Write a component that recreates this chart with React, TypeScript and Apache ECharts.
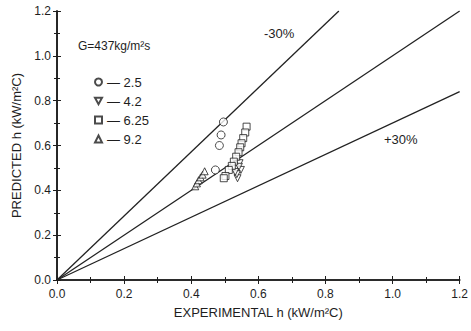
import React, { useEffect, useRef } from "react";
import * as echarts from "echarts";

// Data
const circle25: [number, number][] = [
  [0.496, 0.705], [0.489, 0.647], [0.484, 0.600], [0.472, 0.491],
];
const down42: [number, number][] = [
  [0.538, 0.454], [0.548, 0.491], [0.544, 0.521], [0.536, 0.472], [0.542, 0.505], [0.531, 0.482],
];
const square625: [number, number][] = [
  [0.565, 0.684], [0.561, 0.658], [0.555, 0.633], [0.550, 0.610], [0.546, 0.592],
  [0.541, 0.570], [0.534, 0.550], [0.527, 0.528], [0.521, 0.509], [0.512, 0.491],
  [0.502, 0.464], [0.497, 0.454],
];
const up92: [number, number][] = [
  [0.412, 0.418], [0.417, 0.431], [0.422, 0.445], [0.428, 0.458], [0.434, 0.470], [0.440, 0.485],
];
const perfectLine: [number, number][] = [[0, 0], [1.2, 1.2]];
const minus30Line: [number, number][] = [[0, 0], [0.84, 1.2]];
const plus30Line: [number, number][] = [[0, 0], [1.2, 0.84]];
const seriesNames = ["— 2.5", "— 4.2", "— 6.25", "— 9.2"];

const FONT = "Liberation Sans, Arial, sans-serif";
const INK = "#1e1e1e";

export default function App() {
  const ref = useRef<HTMLDivElement>(null);
  useEffect(() => {
    if (!ref.current) return;
    const chart = echarts.init(ref.current, undefined, { renderer: "svg" });
    const axisCommon = {
      min: 0,
      max: 1.2,
      interval: 0.2,
      axisLine: { show: true, lineStyle: { color: INK, width: 1.6 } },
      axisTick: { show: true, inside: true, length: 4, lineStyle: { color: INK } },
      minorTick: { show: true, splitNumber: 2, length: 3, lineStyle: { color: INK } },
      splitLine: { show: false },
    };
    const hollow = { color: "#fff", borderColor: INK, borderWidth: 1 };
    const lineStyle = { color: "#222", width: 1.3 };
    chart.setOption({
      animation: false,
      backgroundColor: "#fff",
      textStyle: { fontFamily: FONT },
      grid: { left: 57, right: 10, top: 11, bottom: 51, containLabel: false },
      xAxis: [
        {
          ...axisCommon,
          type: "value",
          position: "bottom",
          name: "EXPERIMENTAL h (kW/m²C)",
          nameLocation: "middle",
          nameGap: 26,
          nameTextStyle: { fontFamily: FONT, fontSize: 13, color: INK },
          axisLabel: { fontFamily: FONT, fontSize: 12, color: INK, margin: 8, formatter: (v: number) => v.toFixed(1) },
        },
        {
          ...axisCommon,
          type: "value",
          position: "top",
          axisLabel: { show: false },
        },
      ],
      yAxis: [
        {
          ...axisCommon,
          type: "value",
          position: "left",
          name: "PREDICTED h (kW/m²C)",
          nameLocation: "middle",
          nameGap: 32,
          nameTextStyle: { fontFamily: FONT, fontSize: 13, color: INK },
          axisLabel: { fontFamily: FONT, fontSize: 12, color: INK, margin: 6, formatter: (v: number) => v.toFixed(1) },
        },
        {
          ...axisCommon,
          type: "value",
          position: "right",
          axisLabel: { show: false },
        },
      ],
      legend: {
        show: true,
        orient: "vertical",
        left: 89,
        top: 70,
        itemGap: 5,
        itemWidth: 7,
        itemHeight: 7,
        data: seriesNames,
        textStyle: { fontFamily: FONT, fontSize: 13, color: INK, lineHeight: 14, padding: [0, 0, 0, 0] },
        selectedMode: false,
      },
      graphic: [
        { type: "text", left: 78, top: 40, style: { text: "G=437kg/m²s", font: `12px ${FONT}`, fill: INK } },
        { type: "text", left: 264, top: 27, style: { text: "-30%", font: `13px ${FONT}`, fill: INK } },
        { type: "text", left: 384, top: 133, style: { text: "+30%", font: `13px ${FONT}`, fill: INK } },
      ],
      series: [
        { type: "line", data: perfectLine, symbol: "none", lineStyle, silent: true, z: 1 },
        { type: "line", data: minus30Line, symbol: "none", lineStyle, silent: true, z: 1 },
        { type: "line", data: plus30Line, symbol: "none", lineStyle, silent: true, z: 1 },
        { name: seriesNames[0], type: "scatter", data: circle25, symbol: "circle", symbolSize: 8, itemStyle: hollow, z: 3 },
        { name: seriesNames[1], type: "scatter", data: down42, symbol: "path://M0,0 L10,0 L5,9 Z", symbolSize: 7, itemStyle: hollow, z: 3 },
        { name: seriesNames[2], type: "scatter", data: square625, symbol: "rect", symbolSize: 7, itemStyle: hollow, z: 3 },
        { name: seriesNames[3], type: "scatter", data: up92, symbol: "triangle", symbolSize: 7, itemStyle: hollow, z: 3 },
      ],
    });
    return () => chart.dispose();
  }, []);
  return <div ref={ref} style={{ position: "fixed", left: 0, top: 0, width: 471, height: 331 }} />;
}
